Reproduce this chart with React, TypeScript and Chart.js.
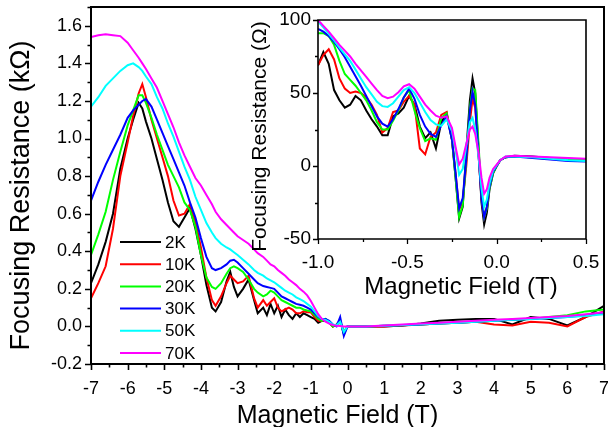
import React, { useEffect, useRef } from "react";
import { Chart, registerables } from "chart.js";

Chart.register(...registerables);

const SERIES_LABELS = ["2K", "10K", "20K", "30K", "50K", "70K"];
const SERIES_COLORS = ["#000000", "#ff0000", "#00ff00", "#0000ff", "#00ffff", "#ff00ff"];

const MAIN_X_TITLE = "Magnetic Field (T)";
const MAIN_Y_TITLE = "Focusing Resistance (kΩ)";
const INSET_X_TITLE = "Magnetic Field (T)";
const INSET_Y_TITLE = "Focusing Resistance (Ω)";

// ---- main panel (kOhm vs T) ----
const MAIN_X = [
  -7, -6.8, -6.6, -6.4, -6.2, -6.0, -5.85, -5.7, -5.6, -5.5, -5.35, -5.2, -5.05, -4.9, -4.75,
  -4.6, -4.45, -4.3, -4.15, -4.0, -3.85, -3.7, -3.6, -3.45, -3.3, -3.2, -3.1, -3.0, -2.85, -2.7,
  -2.55, -2.45, -2.3, -2.2, -2.1, -2.0, -1.9, -1.8, -1.7, -1.6, -1.5, -1.4, -1.3, -1.2, -1.1,
  -1.0, -0.9, -0.8, -0.7, -0.6, -0.5, -0.4, -0.3, -0.2, -0.1, 0, 0.5, 1, 1.5, 2,
  2.5, 3, 3.5, 4, 4.5, 5, 5.5, 6, 6.5, 7,
];
const MAIN_2K = [
  0.23, 0.33, 0.45, 0.6, 0.84, 1.0, 1.1, 1.19, 1.16, 1.09, 1.0, 0.89, 0.78, 0.66, 0.56,
  0.53, 0.58, 0.63, 0.52, 0.38, 0.22, 0.1, 0.08, 0.13, 0.24, 0.29, 0.21, 0.16, 0.2, 0.25,
  0.14, 0.07, 0.1, 0.06, 0.12, 0.07, 0.11, 0.05, 0.09, 0.06, 0.04, 0.07, 0.05, 0.07, 0.06,
  0.05, 0.04, 0.02, 0.03, 0.03, 0.02, 0.0, 0.01, 0.03, -0.04, 0.0, 0.0, 0.0, 0.005, 0.015,
  0.03, 0.035, 0.04, 0.04, 0.01, 0.05, 0.04, 0.005, 0.05, 0.11,
];
const MAIN_10K = [
  0.15, 0.23, 0.32, 0.52, 0.8, 0.98, 1.12, 1.24, 1.29, 1.22, 1.1, 1.0, 0.9, 0.8, 0.67,
  0.59, 0.6, 0.65, 0.56, 0.42, 0.26, 0.14, 0.11, 0.16, 0.23, 0.27, 0.25, 0.23, 0.24, 0.27,
  0.15, 0.1, 0.14, 0.11, 0.13, 0.15, 0.1, 0.08, 0.09, 0.1, 0.09, 0.07, 0.07, 0.08, 0.075,
  0.075, 0.05, 0.03, 0.03, 0.04, 0.02, 0.0, 0.01, 0.02, -0.03, 0.0, 0.0, 0.0, 0.005, 0.01,
  0.015, 0.02, 0.025, 0.01, 0.005, 0.025, 0.02, 0.0, 0.05, 0.08,
];
const MAIN_20K = [
  0.38, 0.49, 0.61, 0.78, 0.93, 1.07, 1.15, 1.23, 1.23, 1.19, 1.11, 1.02, 0.94, 0.86, 0.8,
  0.74, 0.66, 0.62, 0.53, 0.38, 0.26, 0.21, 0.2, 0.23, 0.28, 0.31, 0.32, 0.31, 0.29, 0.25,
  0.2, 0.18, 0.16, 0.17, 0.19, 0.18, 0.16, 0.14, 0.13, 0.12, 0.11, 0.1, 0.1, 0.09, 0.085,
  0.08, 0.06, 0.04, 0.03, 0.04, 0.025, 0.0, 0.01, 0.03, -0.03, 0.0, 0.0, 0.003, 0.006, 0.01,
  0.015, 0.02, 0.025, 0.03, 0.035, 0.04, 0.05, 0.06, 0.08, 0.09,
];
const MAIN_30K = [
  0.67, 0.77, 0.86, 0.94, 1.02, 1.11, 1.15, 1.18, 1.2, 1.21, 1.17, 1.1, 1.03, 0.96, 0.89,
  0.82, 0.75, 0.66, 0.58, 0.47, 0.37, 0.31, 0.3, 0.31, 0.33, 0.35, 0.355, 0.34, 0.31, 0.28,
  0.25, 0.23, 0.215, 0.21, 0.205, 0.2, 0.18, 0.16, 0.15, 0.14, 0.13, 0.12, 0.115, 0.11, 0.1,
  0.09, 0.07, 0.05, 0.04, 0.04, 0.03, 0.01, 0.0, 0.05, -0.05, 0.0, 0.0, 0.003, 0.006, 0.01,
  0.015, 0.02, 0.025, 0.03, 0.035, 0.04, 0.045, 0.05, 0.06, 0.07,
];
const MAIN_50K = [
  1.17, 1.22, 1.28, 1.32, 1.36, 1.39, 1.4, 1.38, 1.36, 1.33, 1.29, 1.22, 1.16, 1.08, 1.01,
  0.93, 0.85, 0.78, 0.69, 0.62, 0.55, 0.5, 0.47, 0.44, 0.42, 0.41, 0.395, 0.38, 0.355, 0.33,
  0.3, 0.285, 0.27, 0.255, 0.245, 0.235, 0.22, 0.205, 0.19, 0.18, 0.17, 0.155, 0.145, 0.135, 0.12,
  0.105, 0.08, 0.055, 0.04, 0.035, 0.025, 0.01, 0.005, 0.025, -0.03, 0.0, 0.0, 0.004, 0.008, 0.012,
  0.016, 0.02, 0.025, 0.03, 0.035, 0.04, 0.045, 0.05, 0.055, 0.065,
];
const MAIN_70K = [
  1.54, 1.55, 1.555, 1.55, 1.545, 1.51, 1.47, 1.43, 1.4, 1.37, 1.32, 1.27, 1.2, 1.13, 1.06,
  0.98, 0.91, 0.85, 0.79, 0.75, 0.7, 0.65, 0.61, 0.57, 0.54, 0.52, 0.5, 0.48, 0.46, 0.44,
  0.41, 0.39, 0.37, 0.35, 0.33, 0.32, 0.3, 0.285, 0.27, 0.25, 0.235, 0.22, 0.2, 0.185, 0.165,
  0.135, 0.1, 0.065, 0.04, 0.025, 0.015, 0.008, 0.004, 0.002, 0.0, 0.0, 0.0, 0.005, 0.01, 0.015,
  0.02, 0.025, 0.03, 0.035, 0.04, 0.045, 0.05, 0.055, 0.065, 0.075,
];

// ---- inset panel (Ohm vs T) ----
const INSET_X = [
  -1.0, -0.97, -0.94, -0.91, -0.88, -0.85, -0.82, -0.79, -0.76, -0.73, -0.7, -0.67, -0.64, -0.61,
  -0.58, -0.55, -0.52, -0.49, -0.46, -0.43, -0.4, -0.37, -0.34, -0.31, -0.28, -0.25, -0.23, -0.21,
  -0.19, -0.17, -0.15, -0.135, -0.12, -0.1, -0.085, -0.07, -0.055, -0.04, -0.02, 0.0, 0.02, 0.05,
  0.1, 0.2, 0.3, 0.4, 0.5,
];
const INSET_2K = [
  69, 78, 70, 52, 45, 40, 42, 48, 45, 38, 32, 27, 21, 21,
  34, 36, 40, 48, 42, 27, 19, 23, 12, 30, 36, 18, -8, -36,
  -28, 10, 45, 60, 50, 8, -25, -40, -32, -16, -5, 0, 4, 6,
  7, 6.5, 5.5, 5, 4.5,
];
const INSET_10K = [
  69, 76, 80, 73, 60, 53, 50, 51, 50, 47, 42, 35, 23, 26,
  37, 38, 44, 48, 42, 12, 8, 20, 23, 35, 37, 18, -5, -30,
  -24, 0, 30, 46, 40, 5, -22, -35, -28, -14, -4, 0, 4, 6,
  6.5, 6, 5, 4.5, 4,
];
const INSET_20K = [
  91, 91, 89, 83, 72, 63, 59, 55, 50, 45, 38, 30, 25, 25,
  31, 38, 47, 52, 38, 26, 17, 19, 18, 33, 36, 18, -8, -35,
  -27, 5, 40, 53, 52, 12, -20, -35, -29, -15, -5, 0, 4, 6,
  6.5, 6, 5, 4.5, 4,
];
const INSET_30K = [
  94, 92, 89, 85, 80, 74.5, 68, 61.5, 55, 48, 41, 34, 29, 27,
  32, 39, 47, 53, 46, 35, 27, 22, 20, 28, 34, 18, -5, -29,
  -22, 5, 38, 51, 42, 5, -22, -35, -28, -14, -4, 0, 4, 6,
  6.5, 5.5, 4.5, 3.5, 3,
];
const INSET_50K = [
  99, 95, 90.5, 86, 81, 76.5, 72, 66, 60, 54, 49, 44, 41, 40.5,
  43, 47.5, 52, 54, 50, 43.5, 37, 31.5, 28.5, 27.5, 32, 24, 11, -6,
  -2, 14, 30, 33, 25, 5, -15, -28, -23, -12, -3, 0.5, 4, 6.5,
  6.5, 6, 5, 4, 3.5,
];
const INSET_70K = [
  100, 96, 92, 87.5, 83, 79, 75, 70, 65.5, 61, 56.5, 52, 48, 46.5,
  47.5, 50.5, 54.5, 56, 53, 47.5, 42, 38, 34.5, 33, 34, 26, 13, 1,
  5, 15, 25, 27, 22, 8, -8, -19, -16, -8, -2, 1, 4, 6.5,
  7, 6.5, 6, 5.5, 5,
];

const MAIN_SERIES = [MAIN_2K, MAIN_10K, MAIN_20K, MAIN_30K, MAIN_50K, MAIN_70K];
const INSET_SERIES = [INSET_2K, INSET_10K, INSET_20K, INSET_30K, INSET_50K, INSET_70K];

const FONT = "Arial, 'Liberation Sans', Helvetica, sans-serif";

type TickSpec = {
  xMin: number; xMax: number; xMajor: number; xMinor: number;
  yMin: number; yMax: number; yMajor: number; yMinor: number;
  major: number; minor: number; lw: number;
};

function framePlugin(id: string, t: TickSpec) {
  return {
    id,
    afterDraw(chart: any) {
      const { ctx, chartArea: a, scales } = chart;
      const xs = scales.x;
      const ys = scales.y;
      ctx.save();
      ctx.strokeStyle = "#000";
      ctx.lineWidth = t.lw;
      ctx.beginPath();
      ctx.rect(a.left, a.top, a.right - a.left, a.bottom - a.top);
      ctx.stroke();
      ctx.lineWidth = t.lw * 0.8;
      ctx.beginPath();
      const nx = Math.round((t.xMax - t.xMin) / t.xMinor);
      for (let i = 0; i <= nx; i++) {
        const v = t.xMin + i * t.xMinor;
        const r = v / t.xMajor;
        const isMajor = Math.abs(r - Math.round(r)) < 1e-6;
        const px = Math.round(xs.getPixelForValue(v)) + 0.5;
        ctx.moveTo(px, a.bottom);
        ctx.lineTo(px, a.bottom + (isMajor ? t.major : t.minor));
      }
      const ny = Math.round((t.yMax - t.yMin) / t.yMinor);
      for (let i = 0; i <= ny; i++) {
        const v = t.yMin + i * t.yMinor;
        const r = v / t.yMajor;
        const isMajor = Math.abs(r - Math.round(r)) < 1e-6;
        const py = Math.round(ys.getPixelForValue(v)) + 0.5;
        ctx.moveTo(a.left, py);
        ctx.lineTo(a.left - (isMajor ? t.major : t.minor), py);
      }
      ctx.stroke();
      ctx.restore();
    },
  };
}

type TitleSpec = {
  xText: string; xSize: number; xDx: number; xY: number;
  yText: string; ySize: number; yDy: number; yX: number;
};

// axis titles, placed relative to the chart area (slightly off-centre as in the source figure)
function titlePlugin(id: string, t: TitleSpec) {
  return {
    id,
    afterDraw(chart: any) {
      const { ctx, chartArea: a } = chart;
      ctx.save();
      ctx.fillStyle = "#000";
      ctx.textAlign = "center";
      ctx.textBaseline = "alphabetic";
      ctx.font = `${t.xSize}px ${FONT}`;
      ctx.fillText(t.xText, (a.left + a.right) / 2 + t.xDx, t.xY);
      ctx.translate(t.yX, (a.top + a.bottom) / 2 + t.yDy);
      ctx.rotate(-Math.PI / 2);
      ctx.font = `${t.ySize}px ${FONT}`;
      ctx.fillText(t.yText, 0, 0);
      ctx.restore();
    },
  };
}

const legendPlugin = {
  id: "innerLegend",
  afterDraw(chart: any) {
    const { ctx, chartArea: a } = chart;
    ctx.save();
    ctx.font = `17px ${FONT}`;
    ctx.textBaseline = "middle";
    ctx.textAlign = "left";
    SERIES_LABELS.forEach((lab, i) => {
      const y = a.top + 235 + i * 22.2;
      ctx.strokeStyle = SERIES_COLORS[i];
      ctx.lineWidth = 2;
      ctx.beginPath();
      ctx.moveTo(a.left + 29, y);
      ctx.lineTo(a.left + 70, y);
      ctx.stroke();
      ctx.fillStyle = "#000";
      ctx.fillText(lab, a.left + 74, y + 1);
    });
    ctx.restore();
  },
};

function makeDatasets(xs: number[], series: number[][]) {
  return series.map((ys, i) => ({
    label: SERIES_LABELS[i],
    data: xs.map((x, j) => ({ x, y: ys[j] })),
    borderColor: SERIES_COLORS[i],
    backgroundColor: SERIES_COLORS[i],
    borderWidth: 2,
    pointRadius: 0,
    tension: 0,
    order: SERIES_LABELS.length - i,
  }));
}

function fixSize(dim: "width" | "height", size: number) {
  return (s: any) => {
    s[dim] = size;
    s.paddingLeft = 0;
    s.paddingRight = 0;
    s.paddingTop = 0;
    s.paddingBottom = 0;
  };
}

export default function App() {
  const mainRef = useRef<HTMLCanvasElement | null>(null);
  const insetRef = useRef<HTMLCanvasElement | null>(null);

  useEffect(() => {
    const mainChart = new Chart(mainRef.current as HTMLCanvasElement, {
      type: "line",
      data: { datasets: makeDatasets(MAIN_X, MAIN_SERIES) as any },
      options: {
        animation: false,
        responsive: false,
        events: [],
        layout: { padding: { top: 7, right: 4, left: 0, bottom: 0 } },
        plugins: { legend: { display: false }, tooltip: { enabled: false } },
        scales: {
          x: {
            type: "linear",
            min: -7,
            max: 7,
            grid: { display: false, drawTicks: false },
            border: { display: false },
            ticks: {
              stepSize: 1,
              padding: 14,
              color: "#000",
              font: { family: FONT, size: 18 },
              maxRotation: 0,
              callback: (v: any) => String(v),
            },
            title: { display: false, text: MAIN_X_TITLE },
            afterFit: fixSize("height", 63),
          },
          y: {
            type: "linear",
            min: -0.2,
            max: 1.7,
            grid: { display: false, drawTicks: false },
            border: { display: false },
            ticks: {
              stepSize: 0.2,
              includeBounds: false,
              padding: 9,
              color: "#000",
              font: { family: FONT, size: 18 },
              callback: (v: any) => Number(v).toFixed(1),
            },
            title: { display: false, text: MAIN_Y_TITLE },
            afterFit: fixSize("width", 91),
          },
        },
      },
      plugins: [
        framePlugin("mainFrame", {
          xMin: -7, xMax: 7, xMajor: 1, xMinor: 0.5,
          yMin: -0.2, yMax: 1.7, yMajor: 0.2, yMinor: 0.1,
          major: 6, minor: 3.5, lw: 2,
        }),
        titlePlugin("mainTitles", {
          xText: MAIN_X_TITLE, xSize: 25, xDx: -10, xY: 423,
          yText: MAIN_Y_TITLE, ySize: 27, yDy: 10, yX: 29,
        }),
        legendPlugin,
      ],
    });

    const insetChart = new Chart(insetRef.current as HTMLCanvasElement, {
      type: "line",
      data: { datasets: makeDatasets(INSET_X, INSET_SERIES) as any },
      options: {
        animation: false,
        responsive: false,
        events: [],
        layout: { padding: { top: 20, right: 22, left: 0, bottom: 0 } },
        plugins: { legend: { display: false }, tooltip: { enabled: false } },
        scales: {
          x: {
            type: "linear",
            min: -1,
            max: 0.5,
            grid: { display: false, drawTicks: false },
            border: { display: false },
            ticks: {
              stepSize: 0.5,
              padding: 12,
              color: "#000",
              font: { family: FONT, size: 19 },
              maxRotation: 0,
              callback: (v: any) => Number(v).toFixed(1),
            },
            title: { display: false, text: INSET_X_TITLE },
            afterFit: fixSize("height", 71),
          },
          y: {
            type: "linear",
            min: -50,
            max: 100,
            grid: { display: false, drawTicks: false },
            border: { display: false },
            ticks: {
              stepSize: 50,
              padding: 7,
              color: "#000",
              font: { family: FONT, size: 19 },
              callback: (v: any) => String(v),
            },
            title: { display: false, text: INSET_Y_TITLE },
            afterFit: fixSize("width", 88),
          },
        },
      },
      plugins: [
        framePlugin("insetFrame", {
          xMin: -1, xMax: 0.5, xMajor: 0.5, xMinor: 0.25,
          yMin: -50, yMax: 100, yMajor: 50, yMinor: 25,
          major: 5, minor: 3, lw: 1.6,
        }),
        titlePlugin("insetTitles", {
          xText: INSET_X_TITLE, xSize: 24, xDx: 9, xY: 294,
          yText: INSET_Y_TITLE, ySize: 21, yDy: 7, yX: 36,
        }),
      ],
    });

    return () => {
      mainChart.destroy();
      insetChart.destroy();
    };
  }, []);

  return (
    <div style={{ position: "fixed", left: 0, top: 0, width: 608, height: 427, background: "#fff" }}>
      <canvas ref={mainRef} width={608} height={427} style={{ position: "absolute", left: 0, top: 0 }} />
      <canvas ref={insetRef} width={378} height={310} style={{ position: "absolute", left: 230, top: 0 }} />
    </div>
  );
}
